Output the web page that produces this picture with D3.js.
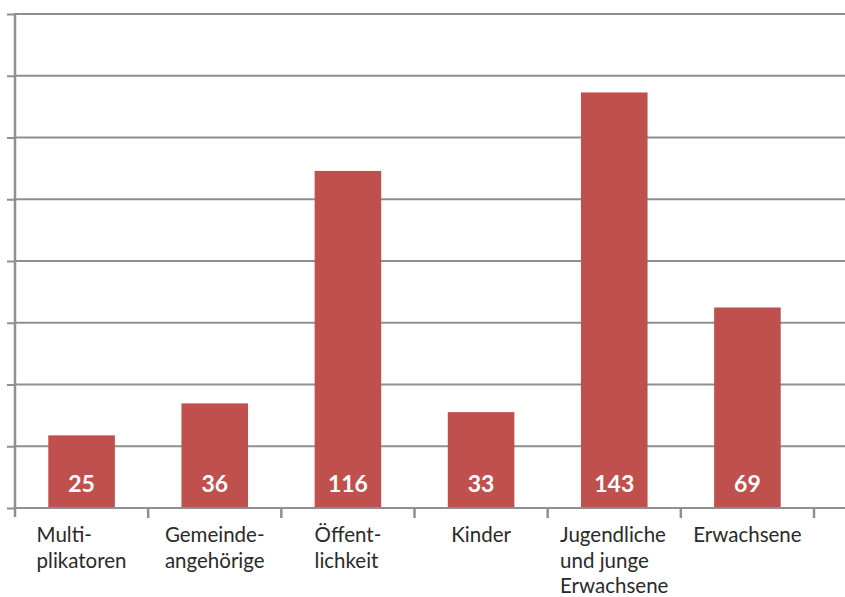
<!DOCTYPE html>
<html>
<head>
<meta charset="utf-8">
<script src="https://cdn.jsdelivr.net/npm/d3@7"></script>
<style>
  html, body { margin: 0; padding: 0; background: #fff; }
  svg { display: block; }
</style>
</head>
<body>
<div id="chart"></div>
<script>
// data
var categories = ['Multi-\nplikatoren', 'Gemeinde-\nangehörige', 'Öffent-\nlichkeit', 'Kinder', 'Jugendliche\nund junge\nErwachsene', 'Erwachsene'];
var values = [25, 36, 116, 33, 143, 69];
var yMax = 170;
var gridSteps = 8;

var width = 845, height = 597;
var margin = { top: 14, right: 31, bottom: 89, left: 15 };

var svg = d3.select('#chart').append('svg')
    .attr('width', width)
    .attr('height', height);

var x = d3.scaleBand()
    .domain(categories)
    .range([margin.left, width - margin.right])
    .paddingInner(0.5)
    .paddingOuter(0.25);

var y = d3.scaleLinear()
    .domain([0, yMax])
    .range([height - margin.bottom, margin.top]);

var lineColor = '#8f8f8f';
var gridTicks = d3.range(0, gridSteps + 1).map(function(i) { return i * yMax / gridSteps; });

// horizontal gridlines with short ticks on the left
var yAxis = svg.append('g')
    .attr('transform', 'translate(' + margin.left + ',0)')
    .call(d3.axisLeft(y).tickValues(gridTicks).tickSize(8).tickFormat(''));
yAxis.select('.domain').remove();
yAxis.selectAll('.tick line').attr('stroke', lineColor).attr('stroke-width', 2);

svg.append('g')
    .selectAll('line')
    .data(gridTicks)
    .enter().append('line')
    .attr('x1', margin.left)
    .attr('x2', width)
    .attr('y1', function(d) { return y(d); })
    .attr('y2', function(d) { return y(d); })
    .attr('stroke', lineColor)
    .attr('stroke-width', 2);

// vertical axis line
svg.append('line')
    .attr('x1', margin.left).attr('x2', margin.left)
    .attr('y1', y(yMax) - 1).attr('y2', y(0) + 9)
    .attr('stroke', lineColor)
    .attr('stroke-width', 2.5);

// category separators on the x axis
var step = x.step();
var start = x(categories[0]) - step * x.paddingOuter();
var boundaries = d3.range(1, categories.length + 1).map(function(i) {
    return start + i * step;
});
svg.append('g')
    .selectAll('line')
    .data(boundaries)
    .enter().append('line')
    .attr('x1', function(d) { return d; })
    .attr('x2', function(d) { return d; })
    .attr('y1', y(0))
    .attr('y2', y(0) + 10)
    .attr('stroke', lineColor)
    .attr('stroke-width', 2.5);

// bars
svg.append('g')
    .selectAll('rect')
    .data(values)
    .enter().append('rect')
    .attr('x', function(d, i) { return x(categories[i]); })
    .attr('width', x.bandwidth())
    .attr('y', function(d) { return y(d); })
    .attr('height', function(d) { return y(0) - y(d) - 1; })
    .attr('fill', '#c0504d');

// value labels inside bars
svg.append('g')
    .selectAll('text')
    .data(values)
    .enter().append('text')
    .attr('x', function(d, i) { return x(categories[i]) + x.bandwidth() / 2; })
    .attr('y', y(0) - 16)
    .attr('text-anchor', 'middle')
    .attr('font-family', 'Lato, sans-serif')
    .attr('font-weight', 'bold')
    .attr('font-size', 23)
    .attr('fill', '#fff')
    .text(function(d) { return d; });

// category labels: lines left-aligned, block centred on the band
var labels = svg.append('g')
    .selectAll('text')
    .data(categories)
    .enter().append('text')
    .attr('font-family', 'Lato, sans-serif')
    .attr('font-size', 20.5)
    .attr('fill', '#2a2a2a');

labels.each(function(d) {
    var t = d3.select(this);
    var lines = d.split('\n');
    var spans = lines.map(function(line, j) {
        return t.append('tspan')
            .attr('y', y(0) + 34 + j * 25.5)
            .text(line);
    });
    var w = d3.max(spans, function(s) { return s.node().getComputedTextLength(); });
    var cx = x(d) + x.bandwidth() / 2;
    spans.forEach(function(s) { s.attr('x', cx - w / 2); });
});
</script>
</body>
</html>
